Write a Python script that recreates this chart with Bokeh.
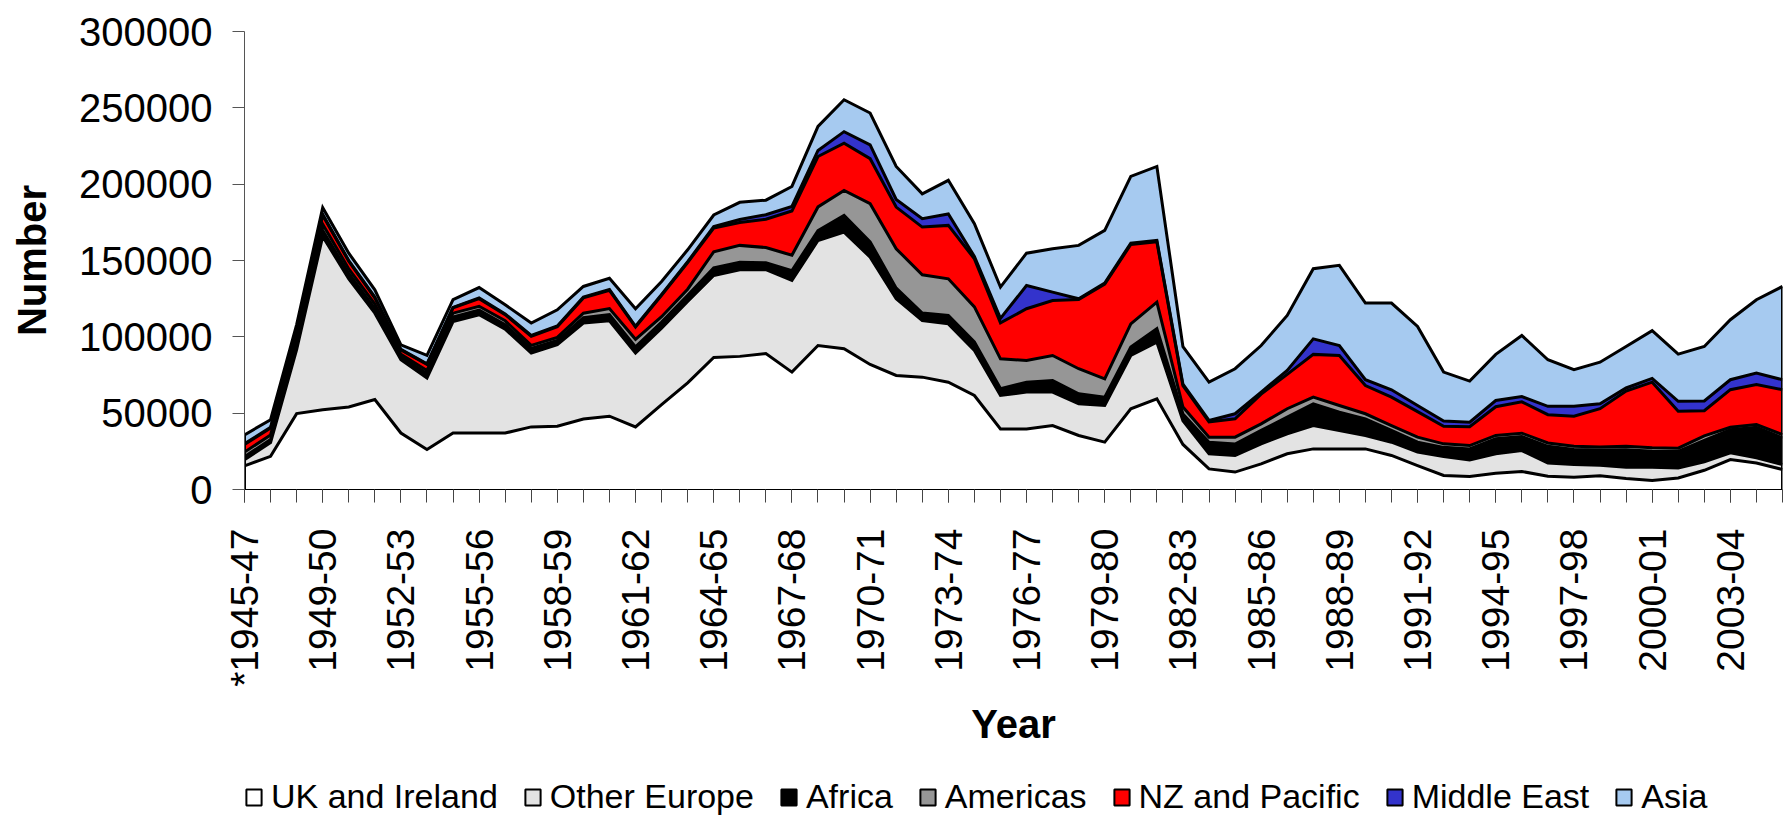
import math
from bokeh.plotting import figure
from bokeh.layouts import column
from bokeh.models import (ColumnDataSource, Range1d, FixedTicker, Legend, LegendItem,
                          NumeralTickFormatter)
from bokeh.embed import file_html
from bokeh.resources import INLINE

# ---------------- data ----------------
years = ["*1945-47"] + [f"{y}-{str(y + 1)[2:]}" for y in range(1947, 2006)]

uk_ireland = [15500, 21700, 49700, 52300, 54000, 58900, 37000, 26200, 37000, 37000,
              37000, 41000, 41400, 46200, 48000, 41000, 55600, 69800, 86500, 87200,
              89000, 76900, 94300, 92200, 81900, 74700, 73600, 70300, 61600, 39700,
              39700, 41900, 35400, 31000, 52900, 59400, 29500, 13500, 11400, 16800,
              23400, 26600, 26600, 26600, 22300, 15700, 9200, 8500, 10700, 11800,
              8700, 8100, 9000, 7200, 5900, 7600, 12600, 19600, 17400, 13100]
other_europe = [4000, 9000, 42000, 113400, 84000, 56600, 48000, 46800, 73000, 77500,
                68000, 48400, 53400, 62800, 62500, 48400, 50100, 53400, 53700, 56700,
                55000, 60000, 68800, 76400, 70300, 50200, 37000, 38200, 29500, 21900,
                24100, 21900, 20700, 24000, 34900, 37100, 15500, 9900, 10900, 13100,
                13100, 15300, 12100, 8800, 8700, 8800, 12400, 10900, 12700, 13700,
                8700, 8300, 6900, 7400, 8700, 6500, 5500, 4400, 3300, 3300]
africa = [2000, 2000, 3000, 4000, 3500, 3000, 2000, 3000, 3000, 3000,
          3000, 3000, 2800, 3500, 4000, 4000, 4000, 4000, 5000, 5000,
          4500, 6500, 6500, 11000, 10000, 7000, 5000, 5500, 5500, 4500,
          6500, 7600, 6600, 5500, 5500, 8800, 4500, 7600, 7500, 8800,
          11000, 14200, 12000, 10900, 7700, 6500, 6000, 7200, 9800, 9200,
          10900, 9800, 10000, 11500, 10500, 10800, 14000, 15200, 20000, 17400]
americas = [3000, 3000, 3500, 4000, 3000, 3000, 1500, 2000, 2500, 2500,
            2500, 2000, 2000, 3000, 4000, 5000, 3500, 4000, 10500, 11000,
            10000, 10000, 15500, 16300, 25000, 25800, 25000, 24000, 23000, 19500,
            14200, 16400, 16400, 12000, 15200, 17400, 4500, 3300, 4500, 4300,
            5400, 4400, 4300, 3300, 3200, 3300, 2300, 2200, 2200, 2200,
            2200, 2100, 2000, 2200, 2200, 2200, 3000, 1600, 1800, 2200]
nz_pacific = [5000, 4500, 4500, 6000, 5000, 4000, 3000, 4000, 3500, 5000,
              4000, 6000, 7000, 10000, 12000, 8000, 14000, 17500, 15500, 15000,
              18500, 29000, 33000, 31000, 29500, 27300, 31300, 35000, 31500, 23500,
              33900, 36000, 45300, 62000, 52000, 39500, 14000, 10000, 12000, 19500,
              22500, 28000, 32800, 18500, 18600, 16700, 11500, 12300, 18800, 20500,
              18500, 19700, 25000, 36200, 43000, 24100, 16500, 24600, 26200, 29400]
middle_east = [500, 500, 500, 500, 500, 500, 300, 300, 300, 500,
               500, 500, 500, 500, 500, 500, 500, 500, 1000, 2000,
               3000, 3000, 4000, 7500, 9000, 5000, 5500, 7500, 1500, 3000,
               15200, 5500, 500, 700, 900, 900, 1000, 900, 3300, 1300,
               2600, 10200, 6500, 3800, 4800, 4000, 3400, 3000, 4100, 3500,
               5500, 6500, 3300, 2000, 2500, 6600, 6400, 6500, 7600, 6500]
asia = [5800, 5000, 4800, 4400, 4800, 4800, 3000, 5600, 5000, 6800,
        6000, 8100, 10600, 7000, 7400, 11500, 8500, 7800, 7600, 11200,
        9500, 13100, 15700, 20900, 20900, 21600, 16300, 22000, 21500, 20500,
        21200, 28400, 35000, 34500, 43700, 48500, 24500, 25100, 29500, 30500,
        36000, 45900, 52500, 50200, 56800, 51800, 32100, 26900, 30200, 40000,
        30500, 24000, 27200, 27200, 31200, 30900, 35700, 39300, 48000, 61100]

series_names = ["UK and Ireland", "Other Europe", "Africa", "Americas",
                "NZ and Pacific", "Middle East", "Asia"]
series_values = [uk_ireland, other_europe, africa, americas, nz_pacific, middle_east, asia]
series_colors = ["#FFFFFF", "#E3E3E3", "#000000", "#969696", "#FF0000", "#3333CC", "#A6CAF0"]

y_ticks = [0, 50000, 100000, 150000, 200000, 250000, 300000]

# ---------------- build ----------------
keys = [f"s{i}" for i in range(len(series_names))]
data = {"x": list(range(len(years)))}
for k, v in zip(keys, series_values):
    data[k] = v
src = ColumnDataSource(data)
totals = [sum(vals) for vals in zip(*series_values)]

FONT = "Liberation Sans"
W = 1783

p = figure(width=W, height=760, output_backend="svg", toolbar_location=None,
           x_range=Range1d(0, len(years) - 1), y_range=Range1d(0, 300000),
           min_border_left=244, min_border_right=1, min_border_top=31,
           min_border_bottom=271)
p.outline_line_color = None
p.xgrid.visible = False
p.ygrid.visible = False
p.background_fill_color = "white"
p.border_fill_color = "white"

p.varea_stack(stackers=keys, x="x", source=src, color=series_colors)
p.vline_stack(stackers=keys, x="x", source=src, color=["black"] * len(keys),
              line_width=3, line_join="miter")
p.segment(x0=[data["x"][0], data["x"][-1]], y0=[0, 0],
          x1=[data["x"][0], data["x"][-1]], y1=[totals[0], totals[-1]],
          line_color="black", line_width=3)

# y axis
p.yaxis.ticker = FixedTicker(ticks=y_ticks)
p.yaxis.formatter = NumeralTickFormatter(format="0")
p.yaxis.major_label_text_font = FONT
p.yaxis.major_label_text_font_size = "40px"
p.yaxis.major_label_text_color = "black"
p.yaxis.major_tick_in = 0
p.yaxis.major_tick_out = 12
p.yaxis.major_label_standoff = 20
p.yaxis.minor_tick_line_color = None
p.yaxis.axis_line_color = "#555555"
p.yaxis.major_tick_line_color = "#555555"
p.yaxis.axis_label = "Number"
p.yaxis.axis_label_text_font = FONT
p.yaxis.axis_label_text_font_style = "bold"
p.yaxis.axis_label_text_font_size = "40px"
p.yaxis.axis_label_text_color = "black"
p.yaxis.axis_label_standoff = 22

# x axis
major = list(range(0, len(years), 3))
p.xaxis.ticker = FixedTicker(ticks=major, minor_ticks=list(range(len(years))))
p.xaxis.major_label_overrides = {i: years[i] for i in major}
p.xaxis.major_label_orientation = math.pi / 2
p.xaxis.major_label_text_font = FONT
p.xaxis.major_label_text_font_size = "39px"
p.xaxis.major_label_text_color = "black"
p.xaxis.major_tick_in = 0
p.xaxis.major_tick_out = 13
p.xaxis.minor_tick_in = 0
p.xaxis.minor_tick_out = 13
p.xaxis.major_label_standoff = 26
p.xaxis.axis_line_color = "black"
p.xaxis.major_tick_line_color = "#444444"
p.xaxis.minor_tick_line_color = "#444444"
p.xaxis.axis_label = "Year"
p.xaxis.axis_label_text_font = FONT
p.xaxis.axis_label_text_font_style = "bold"
p.xaxis.axis_label_text_font_size = "40px"
p.xaxis.axis_label_text_color = "black"
p.xaxis.axis_label_standoff = 12

# ---------------- legend strip ----------------
q = figure(width=W, height=56, output_backend="svg", toolbar_location=None,
           x_range=Range1d(0, 1), y_range=Range1d(0, 1),
           min_border=0, min_border_left=0, min_border_right=0,
           min_border_top=0, min_border_bottom=0)
q.axis.visible = False
q.grid.visible = False
q.outline_line_color = None
q.border_fill_color = "white"
q.background_fill_color = "white"

nan = float("nan")
items = []
for name, col in zip(series_names, series_colors):
    r = q.quad(left=[nan], right=[nan], top=[nan], bottom=[nan],
               fill_color=col, line_color="black", line_width=2)
    items.append(LegendItem(label=name, renderers=[r]))

legend = Legend(items=items, orientation="horizontal", location=(0, 0))
legend.label_text_font = FONT
legend.label_text_font_size = "34px"
legend.label_text_color = "black"
legend.glyph_width = 19
legend.glyph_height = 20
legend.label_standoff = 8
legend.spacing = 25
legend.padding = 0
legend.margin = 0
legend.border_line_alpha = 0
legend.background_fill_alpha = 0
q.add_layout(legend, "center")

layout = column(p, q, spacing=0)
open("out.html", "w").write(file_html(layout, INLINE))
